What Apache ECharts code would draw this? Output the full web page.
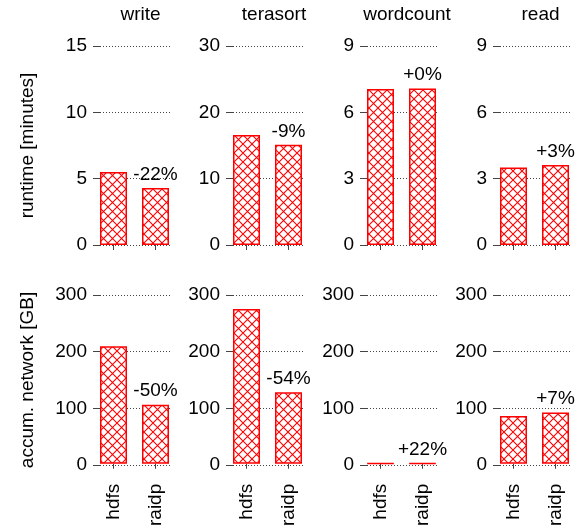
<!DOCTYPE html>
<html><head><meta charset="utf-8">
<script src="https://cdn.jsdelivr.net/npm/echarts@6/dist/echarts.min.js"></script>
<style>html,body{margin:0;padding:0;background:#fff}#c{width:582px;height:529px}</style>
</head><body><div id="c"></div>
<script>
// ---- data ----
const benchmarks = ['write', 'terasort', 'wordcount', 'read'];
const systems = ['hdfs', 'raidp'];
const runtimeHdfs = [5.5, 16.6, 7.05, 3.51];
const runtimeRaidp = [4.3, 15.1, 7.08, 3.62];
const runtimeChange = ['-22%', '-9%', '+0%', '+3%'];
const runtimeMax = [15, 30, 9, 9];
const networkHdfs = [209, 275, 0.5, 85];
const networkRaidp = [105, 127, 0.61, 91];
const networkChange = ['-50%', '-54%', '+22%', '+7%'];
const networkMax = [300, 300, 300, 300];
const rowNames = ['runtime [minutes]', 'accum. network [GB]'];

// ---- layout / style ----
const FONT = 'Liberation Sans, Arial, Helvetica, sans-serif';
const FS = 19;
const panelLeft = [100, 233, 367, 500];
const panelW = 70;
const rowsLayout = [{top: 46, h: 199}, {top: 295, h: 170}];
const titleX = [140.5, 274, 407, 540.5];

function makePattern() {
  const S = 9;
  const cv = document.createElement('canvas');
  cv.width = S; cv.height = S;
  const ctx = cv.getContext('2d');
  ctx.fillStyle = '#ffffff';
  ctx.fillRect(0, 0, S, S);
  ctx.strokeStyle = '#ff0000';
  ctx.lineWidth = 1.1;
  ctx.beginPath();
  ctx.moveTo(-1, -1); ctx.lineTo(S + 1, S + 1);
  ctx.moveTo(S + 1, -1); ctx.lineTo(-1, S + 1);
  ctx.stroke();
  return cv;
}
const pattern = {image: makePattern(), repeat: 'repeat'};

const rowsData = [
  {hdfs: runtimeHdfs, raidp: runtimeRaidp, change: runtimeChange, max: runtimeMax},
  {hdfs: networkHdfs, raidp: networkRaidp, change: networkChange, max: networkMax}
];

const grid = [], xAxis = [], yAxis = [], series = [];
rowsData.forEach((rd, r) => {
  benchmarks.forEach((b, c) => {
    const L = panelLeft[c];
    const {top, h} = rowsLayout[r];
    const M = rd.max[c];
    const di = grid.length;
    // decor grid (y axis, dotted lines)
    grid.push({left: L, top: top, width: panelW, height: h});
    xAxis.push({gridIndex: di, type: 'value', min: 0, max: 1, show: false});
    yAxis.push({
      gridIndex: di, type: 'value', min: 0, max: M, interval: M / 3,
      axisLine: {show: false},
      axisTick: {show: true, length: 7, lineStyle: {color: '#444', width: 1}},
      axisLabel: {fontSize: FS, color: '#000', margin: 13, fontFamily: FONT},
      splitLine: {show: true, lineStyle: {type: [1, 2], color: '#444', width: 1}},
      name: c === 0 ? rowNames[r] : '',
      nameLocation: 'middle', nameGap: 63,
      nameTextStyle: {fontSize: FS, color: '#000', fontFamily: FONT}
    });
    // bar grid
    const bi = grid.length;
    grid.push({left: L - 7.5, top: top, width: 84, height: h});
    xAxis.push({
      gridIndex: bi, type: 'category', data: systems,
      axisLine: {show: false},
      axisTick: {show: true, alignWithLabel: true, length: 5, lineStyle: {color: '#444', width: 1}},
      axisLabel: {show: r === 1, rotate: 90, fontSize: FS, color: '#000', margin: 20, fontFamily: FONT},
      splitLine: {show: false}
    });
    yAxis.push({gridIndex: bi, type: 'value', min: 0, max: M, show: false, splitLine: {show: false}});
    series.push({
      type: 'bar', xAxisIndex: bi, yAxisIndex: bi, barWidth: 27,
      itemStyle: {color: pattern, borderColor: '#ff0000', borderWidth: 1.5},
      data: [
        {value: rd.hdfs[c]},
        {value: rd.raidp[c], label: {show: true, position: 'top', distance: 4,
          formatter: rd.change[c], fontSize: FS, color: '#000', fontFamily: FONT}}
      ]
    });
  });
});

const title = benchmarks.map((b, c) => ({
  text: b, left: titleX[c], top: 5, textAlign: 'center', padding: 0,
  textStyle: {fontSize: FS, fontWeight: 'normal', color: '#000', fontFamily: FONT}
}));

const chart = echarts.init(document.getElementById('c'), null, {renderer: 'canvas'});
chart.setOption({
  animation: false,
  backgroundColor: '#fff',
  textStyle: {fontFamily: FONT},
  title: title,
  grid: grid, xAxis: xAxis, yAxis: yAxis, series: series
});
</script>
</body></html>
